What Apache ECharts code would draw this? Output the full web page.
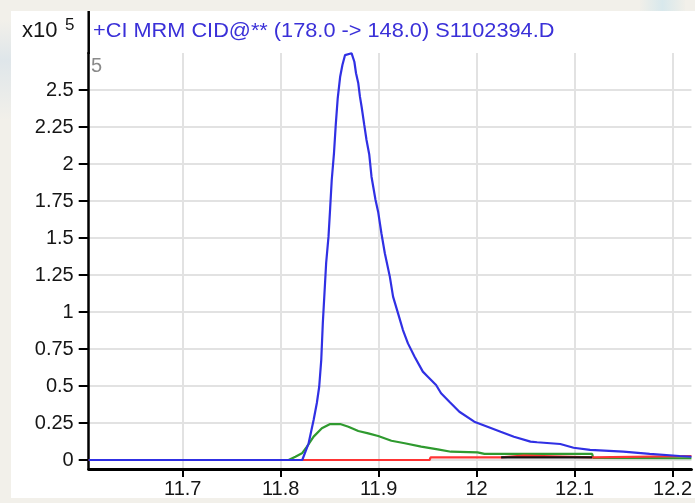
<!DOCTYPE html>
<html>
<head>
<meta charset="utf-8">
<style>
  html, body { margin: 0; padding: 0; background: #f2f0ea; }
  #chart { width: 695px; height: 503px; }
</style>
<script src="https://cdn.jsdelivr.net/npm/echarts@6/dist/echarts.min.js"></script>
</head>
<body>
<div id="chart"></div>
<script>
// Retention time (min) and abundance (x10^5 counts) for each MRM trace
const blueTime = [11.604, 11.822, 11.8234, 11.8285, 11.8336, 11.8369, 11.8393, 11.8414, 11.843, 11.8447,
  11.8464, 11.8488, 11.8505, 11.8521, 11.8544, 11.8562, 11.8582, 11.8607, 11.863, 11.8657, 11.8673,
  11.8724, 11.8752, 11.8769, 11.8792, 11.8809, 11.8826, 11.8853, 11.8876, 11.8904, 11.8927, 11.8968,
  11.8995, 11.9028, 11.9063, 11.9114, 11.9147, 11.9198, 11.9248, 11.9299, 11.9367, 11.9451, 11.9502,
  11.9586, 11.9637, 11.9722, 11.9824, 11.9976, 12.0111, 12.0245, 12.0381, 12.055, 12.0618, 12.0854,
  12.099, 12.1158, 12.1497, 12.1767, 12.2071, 12.2193];
const blueAbund = [0, 0, 0.011, 0.113, 0.27, 0.385, 0.495, 0.676, 0.926, 1.128,
  1.331, 1.509, 1.703, 1.892, 2.074, 2.264, 2.444, 2.59, 2.669, 2.736, 2.748,
  2.748, 2.691, 2.613, 2.545, 2.455, 2.387, 2.264, 2.162, 2.064, 1.914, 1.757,
  1.676, 1.532, 1.397, 1.239, 1.104, 0.991, 0.878, 0.788, 0.698, 0.597, 0.563,
  0.507, 0.451, 0.394, 0.326, 0.259, 0.225, 0.191, 0.157, 0.124, 0.12, 0.108,
  0.083, 0.068, 0.056, 0.041, 0.027, 0.022];

const greenTime = [11.604, 11.808, 11.815, 11.8217, 11.8268, 11.8336, 11.842, 11.8505, 11.8607, 11.8691,
  11.8792, 11.8894, 11.8995, 11.913, 11.9266, 11.9434, 11.9603, 11.9738, 12.0009, 12.008, 12.028,
  12.0483, 12.118, 12.119, 12.2193];
const greenAbund = [0, 0, 0.022, 0.045, 0.09, 0.158, 0.214, 0.243, 0.243, 0.225,
  0.196, 0.18, 0.162, 0.13, 0.113, 0.09, 0.072, 0.056, 0.052, 0.041, 0.041,
  0.041, 0.041, 0.014, 0.012];

const redTime = [11.604, 11.952, 11.953, 12.025, 12.026, 12.048, 12.049, 12.118, 12.119, 12.2193];
const redAbund = [0, 0, 0.018, 0.018, 0.03, 0.03, 0.018, 0.018, 0.027, 0.027];

const blackTime = [12.025, 12.118];
const blackAbund = [0.018, 0.018];

const xTicks = [11.7, 11.8, 11.9, 12, 12.1, 12.2];
const yTicks = [0, 0.25, 0.5, 0.75, 1, 1.25, 1.5, 1.75, 2, 2.25, 2.5];

const headerText = '+CI MRM CID@** (178.0 -> 148.0) S1102394.D';

function pairs(t, v) { return t.map((x, i) => [x, v[i]]); }

const FONT = '"Liberation Sans", Arial, sans-serif';
const chart = echarts.init(document.getElementById('chart'), null, { renderer: 'canvas' });

function trace(name, t, v, color) {
  return {
    name, type: 'line', data: pairs(t, v), showSymbol: false, symbol: 'none',
    lineStyle: { color, width: 2.2 }, clip: true, animation: false
  };
}

chart.setOption({
  animation: false,
  backgroundColor: '#f2f0ea',
  grid: { left: 88.7, right: 0, top: 53, bottom: 34 },
  xAxis: {
    type: 'value', min: 11.604, max: 12.2193,
    axisLine: { onZero: false, lineStyle: { color: '#000', width: 3 } },
    axisTick: { show: true, length: 8, customValues: xTicks, lineStyle: { color: '#000', width: 2 } },
    axisLabel: { customValues: xTicks, fontSize: 20, fontFamily: FONT, color: '#151515', margin: 10 },
    splitLine: { show: true, lineStyle: { color: '#e2e2e2', width: 2 } }
  },
  yAxis: {
    type: 'value', min: -0.0608, max: 2.75,
    axisLine: { show: true, onZero: false, lineStyle: { color: '#000', width: 2.5 } },
    axisTick: { show: true, length: 10, customValues: yTicks, lineStyle: { color: '#000', width: 2 } },
    axisLabel: { customValues: yTicks, fontSize: 20, fontFamily: FONT, color: '#151515', margin: 15 },
    splitLine: { show: true, lineStyle: { color: '#e2e2e2', width: 2 } }
  },
  series: [
    trace('green', greenTime, greenAbund, '#2f9a2f'),
    trace('red', redTime, redAbund, '#ff3434'),
    trace('black', blackTime, blackAbund, '#111111'),
    trace('blue', blueTime, blueAbund, '#3030e4')
  ],
  graphic: [
    // white plotting panel on the beige window background
    { type: 'rect', z: -10, shape: { x: 11, y: 11, width: 684, height: 487 }, style: { fill: '#ffffff' } },
    { type: 'rect', z: -10, shape: { x: 0, y: 20, width: 11, height: 100 },
      style: { fill: new echarts.graphic.LinearGradient(0, 0, 0, 1, [
        { offset: 0, color: '#f2f0ea' }, { offset: 0.4, color: '#dfe6ea' }, { offset: 1, color: '#f2f0ea' }]) } },
    { type: 'rect', z: -10, shape: { x: 640, y: 0, width: 45, height: 11 },
      style: { fill: new echarts.graphic.LinearGradient(0, 0, 1, 0, [
        { offset: 0, color: '#f0efe9' }, { offset: 0.5, color: '#d8e8ec' }, { offset: 1, color: '#f0efe9' }]) } },
    // bottom window strip over the clipped axis labels
    { type: 'rect', z: 100, shape: { x: 0, y: 498, width: 695, height: 5 }, style: { fill: '#f2f0ea' } },
    // value axis continues up through the header
    { type: 'line', z: 50, shape: { x1: 88.7, y1: 11, x2: 88.7, y2: 54 }, style: { stroke: '#000', lineWidth: 2.5 } },
    { type: 'text', z: 50, style: { x: 22, y: 31, text: 'x10', font: '22px ' + FONT, fill: '#151515', textVerticalAlign: 'middle' } },
    { type: 'text', z: 50, style: { x: 65, y: 25, text: '5', font: '17px ' + FONT, fill: '#151515', textVerticalAlign: 'middle' } },
    { type: 'text', z: 50, x: 93, y: 31, scaleX: 1.035,
      style: { x: 0, y: 0, text: headerText, font: '21px ' + FONT, fill: '#3a30d8', textVerticalAlign: 'middle' } },
    { type: 'text', z: 50, style: { x: 91, y: 66, text: '5', font: '20px ' + FONT, fill: '#8a8a8a', textVerticalAlign: 'middle' } }
  ]
});
</script>
</body>
</html>
